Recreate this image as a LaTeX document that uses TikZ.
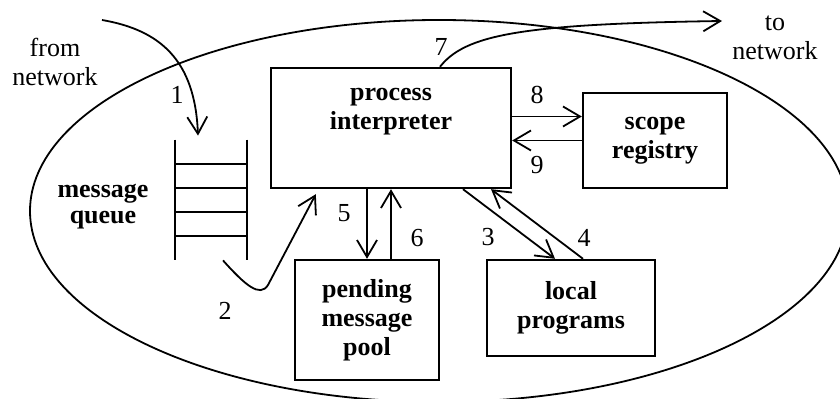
\documentclass[tikz,border=0pt]{standalone}
\usepackage{fontspec}
\setmainfont{Liberation Serif}
\usetikzlibrary{arrows.meta,calc}

\begin{document}
\begin{tikzpicture}[x=.5pt,y=-.5pt,
  font=\fontsize{13}{14.5}\selectfont,
  box/.style={draw,line width=1.2pt,inner sep=0pt,align=center,font=\fontsize{13}{14.5}\selectfont\bfseries},
  flow/.style={line width=.9pt,-{Straight Barb[length=8.5pt,width=10pt]}},
  num/.style={inner sep=0pt}]
\useasboundingbox (0,0) rectangle (840,399);
\draw[line width=.9pt] (439,211) ellipse [x radius=409,y radius=191];
\node[box,minimum width=120pt,minimum height=60pt] (interp) at (391,128) {process\\interpreter\\\strut};
\node[box,minimum width=72pt,minimum height=47.5pt] (scope) at (655,140.5) {scope\\registry};
\node[box,minimum width=72pt,minimum height=60pt] (pool) at (367,320) {pending\\message\\pool};
\node[box,minimum width=84pt,minimum height=48pt] (local) at (571,308) {local\\programs};
\node[minimum width=36pt,minimum height=60pt,inner sep=0pt] (queue) at (211,200) {};
\draw[line width=1pt] (queue.north west) -- (queue.south west) (queue.north east) -- (queue.south east);
\foreach \f in {.2,.4,.6,.8}
  \draw[line width=1pt] ($(queue.north west)!\f!(queue.south west)$) -- ($(queue.north east)!\f!(queue.south east)$);
\node[align=center,font=\fontsize{13}{13}\selectfont\bfseries] (qname) at (103,207) {message\\queue};
\node[align=center] (fromtxt) at (55,62) {from\\network};
\node[align=center] (totxt) at (775,38) {to\\network};
\coordinate (fromnet) at (102,20);
\coordinate (tonet) at (722,21);
\draw[flow] (fromnet) .. controls (160,30) and (195,60) .. ([xshift=-6.5pt,yshift=2pt]queue.north);
\draw[flow] ([xshift=6pt]queue.south) .. controls (245,285) and (260,298) .. (268,285) -- ([xshift=23pt,yshift=-2.5pt]interp.south west);
\draw[flow] ([xshift=36pt]interp.south) -- ([xshift=-8pt]local.north);
\draw[flow] ([xshift=6pt]local.north) -- ([xshift=50pt]interp.south);
\draw[flow] (pool.north |- interp.south) -- (pool.north);
\draw[flow] ([xshift=12pt]pool.north) -- ([xshift=12pt]pool.north |- interp.south);
\draw[flow] ([xshift=24.5pt]interp.north) .. controls (465,35) and (520,24) .. (tonet);
\draw[flow] ([yshift=12pt]interp.east |- scope.west) -- ([yshift=12pt]scope.west);
\draw[flow] (scope.west) -- (interp.east |- scope.west);
\node[num] (n1) at (177,95) {1};
\node[num] (n2) at (225,311) {2};
\node[num] (n3) at (488,237) {3};
\node[num] (n4) at (584,238) {4};
\node[num] (n5) at (344,213) {5};
\node[num] (n6) at (417,238) {6};
\node[num] (n7) at (441,47) {7};
\node[num] (n8) at (537,95) {8};
\node[num] (n9) at (537,165) {9};
\end{tikzpicture}
\end{document}
